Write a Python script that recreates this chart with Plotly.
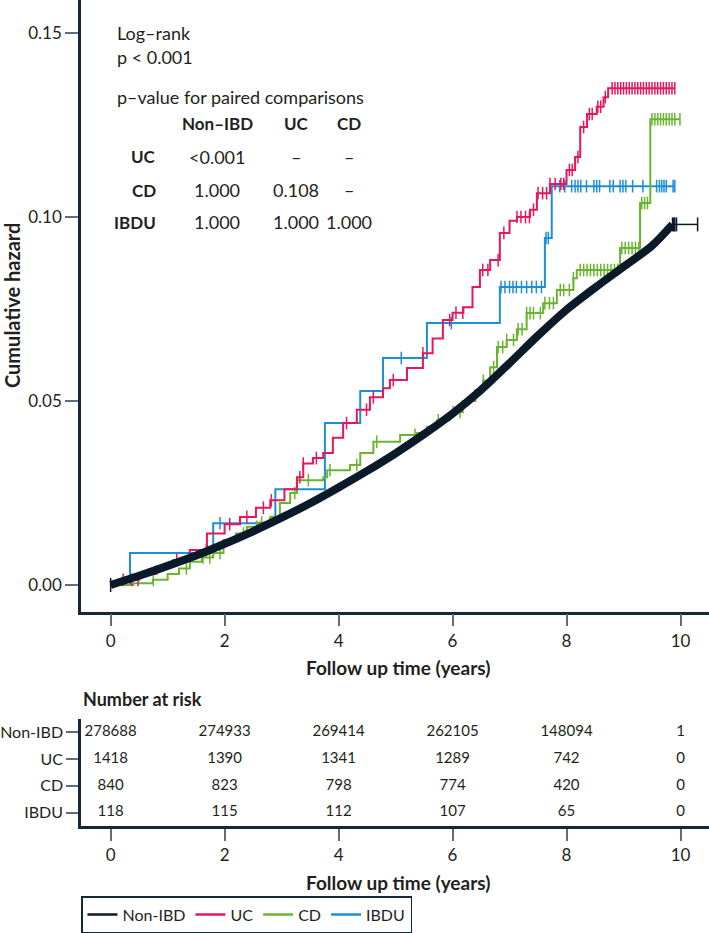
import numpy as np
import plotly.graph_objects as go

# ---------------- data ----------------
tick_years = [0, 2, 4, 6, 8, 10]

nonibd_t = [0, 0.5, 1, 1.5, 2, 2.5, 3, 3.5, 4, 4.5, 5, 5.5, 6, 6.5, 7, 7.5, 8, 8.5, 9, 9.5, 9.86]
nonibd_h = [0, 0.0025, 0.0052, 0.008, 0.0112, 0.0146, 0.0183, 0.0222, 0.0265, 0.031, 0.0358,
            0.041, 0.0466, 0.053, 0.0603, 0.0678, 0.0748, 0.0808, 0.0865, 0.0922, 0.098]
nonibd_last_t = 10.3
nonibd_censor = [0.0, 9.86, 9.88, 9.9, 9.93, 10.3]

uc_t = [0, 0.16, 0.5, 0.8, 1.1, 1.39, 1.69, 2.0, 2.27, 2.55, 2.8, 3.05, 3.27, 3.38, 3.55, 3.73,
        3.9, 4.08, 4.32, 4.55, 4.78, 4.9, 5.2, 5.48, 5.65, 5.83, 6.0, 6.19, 6.35, 6.48, 6.66,
        6.83, 7.0, 7.13, 7.36, 7.48, 7.71, 8.0, 8.15, 8.24, 8.36, 8.53, 8.65, 8.73, 9.9]
uc_h = [0, 0.0014, 0.003, 0.005, 0.0068, 0.0095, 0.014, 0.0165, 0.0185, 0.021, 0.023, 0.026,
        0.0293, 0.033, 0.0345, 0.0359, 0.040, 0.044, 0.0476, 0.051, 0.0535, 0.0557, 0.059,
        0.063, 0.067, 0.072, 0.074, 0.0755, 0.081, 0.0856, 0.0883, 0.0957, 0.099, 0.1, 0.102,
        0.1065, 0.109, 0.1128, 0.1163, 0.1245, 0.128, 0.13, 0.1326, 0.135, 0.135]
uc_censor = [0.22, 0.37, 0.48, 1.16, 1.68, 2.09, 2.39, 2.68, 2.82, 3.32, 3.38, 3.61, 4.14, 4.49,
             4.61, 4.96, 5.48, 5.95, 6.06, 6.18, 6.53, 6.62, 6.8, 6.9, 7.13, 7.2, 7.28, 7.35,
             7.42, 7.5, 7.58, 7.65, 7.71, 7.8, 7.9, 7.95, 8.05, 8.1, 8.2, 8.3, 8.4, 8.45, 8.55,
             8.6, 8.68, 8.8, 8.85, 8.9, 8.95, 9.0, 9.05, 9.1, 9.15, 9.2, 9.25, 9.3, 9.35, 9.4,
             9.45, 9.5, 9.55, 9.6, 9.65, 9.7, 9.75, 9.8, 9.85, 9.9]

cd_t = [0, 0.4, 0.74, 1.0, 1.2, 1.39, 1.6, 1.8, 1.98, 2.2, 2.39, 2.6, 2.8, 2.97, 3.15, 3.27,
        3.73, 3.8, 4.2, 4.38, 4.61, 5.08, 5.37, 5.55, 5.73, 5.95, 6.18, 6.4, 6.54, 6.66, 6.78,
        6.95, 7.13, 7.3, 7.59, 7.83, 8.12, 8.18, 8.94, 9.29, 9.47, 9.99]
cd_h = [0, 0.0005, 0.0014, 0.003, 0.0045, 0.0063, 0.0075, 0.0087, 0.0122, 0.014, 0.0158, 0.017,
        0.0185, 0.0223, 0.025, 0.0285, 0.0293, 0.0312, 0.0326, 0.0359, 0.0389, 0.0408, 0.0413,
        0.043, 0.0448, 0.047, 0.05, 0.053, 0.0555, 0.0592, 0.0647, 0.0666, 0.0695, 0.0739,
        0.0766, 0.0802, 0.0834, 0.0856, 0.0916, 0.1038, 0.1266, 0.1266]
cd_censor = [0.75, 1.33, 1.62, 1.74, 1.92, 2.33, 2.56, 2.65, 3.23, 3.47, 3.85, 4.32, 4.67, 5.34,
             5.75, 6.01, 6.13, 6.54, 6.72, 6.8, 6.88, 6.95, 7.07, 7.15, 7.22, 7.3, 7.36, 7.42,
             7.54, 7.62, 7.7, 7.77, 7.89, 7.95, 8.05, 8.12, 8.24, 8.3, 8.36, 8.42, 8.48, 8.54,
             8.6, 8.66, 8.72, 8.78, 8.84, 8.9, 8.97, 9.03, 9.09, 9.15, 9.21, 9.27, 9.32, 9.37,
             9.42, 9.5, 9.55, 9.6, 9.65, 9.7, 9.75, 9.8, 9.85, 9.9, 9.99]

ibdu_t = [0, 0.34, 1.8, 2.89, 3.76, 4.38, 4.78, 5.55, 6.83, 7.62, 7.74, 9.9]
ibdu_h = [0, 0.0087, 0.0168, 0.026, 0.044, 0.0527, 0.0617, 0.0712, 0.081, 0.0943, 0.1084, 0.1084]
ibdu_censor = [1.92, 5.1, 5.98, 6.85, 6.92, 7.0, 7.06, 7.12, 7.21, 7.3, 7.39, 7.47, 7.56, 7.64,
               7.68, 7.88, 7.97, 8.09, 8.15, 8.2, 8.25, 8.35, 8.48, 8.53, 8.58, 8.76, 8.82,
               8.94, 8.99, 9.04, 9.16, 9.34, 9.58, 9.63, 9.67, 9.71, 9.75, 9.87, 9.9]

risk_groups = ["Non-IBD", "UC", "CD", "IBDU"]
risk_times = [0, 2, 4, 6, 8, 10]
risk_nonibd = [278688, 274933, 269414, 262105, 148094, 1]
risk_uc = [1418, 1390, 1341, 1289, 742, 0]
risk_cd = [840, 823, 798, 774, 420, 0]
risk_ibdu = [118, 115, 112, 107, 65, 0]

pair_cols = ["Non–IBD", "UC", "CD"]
pair_rows = ["UC", "CD", "IBDU"]
pair_vals = [["<0.001", "–", "–"],
             ["1.000", "0.108", "–"],
             ["1.000", "1.000", "1.000"]]

# ---------------- style ----------------
W, H = 709, 933
FONT = "Source Sans Pro, Lato, sans-serif"
TXT = "#231f20"
AXC = "#14283a"
TICKC = "#5e6e7c"
C_NON = "#0b1a28"
C_UC = "#e8175d"
C_CD = "#6ab42f"
C_IB = "#1d8fd6"


def px_x(p):
    return p / W


def px_y(p):
    return 1 - p / H


def step_vals(ts, hs, times):
    ts = np.asarray(ts)
    hs = np.asarray(hs)
    idx = np.searchsorted(ts, np.asarray(times), side="right") - 1
    idx = np.clip(idx, 0, len(hs) - 1)
    return hs[idx]


fig = go.Figure()


def add_step(ts, hs, cens, color, width=2):
    fig.add_trace(go.Scatter(x=ts, y=hs, mode="lines", line=dict(color=color, width=width, shape="hv"),
                             showlegend=False, hoverinfo="skip", xaxis="x", yaxis="y"))
    fig.add_trace(go.Scatter(x=cens, y=step_vals(ts, hs, cens), mode="markers",
                             marker=dict(symbol="line-ns", size=9, line=dict(color=color, width=1.5)),
                             showlegend=False, hoverinfo="skip", xaxis="x", yaxis="y"))


add_step(ibdu_t, ibdu_h, ibdu_censor, C_IB)
add_step(cd_t, cd_h, cd_censor, C_CD)
add_step(uc_t, uc_h, uc_censor, C_UC)

# Non-IBD: thick smooth curve plus thin tail
fig.add_trace(go.Scatter(x=nonibd_t, y=nonibd_h, mode="lines",
                         line=dict(color=C_NON, width=8, shape="spline", smoothing=0.8),
                         showlegend=False, hoverinfo="skip", xaxis="x", yaxis="y"))
fig.add_trace(go.Scatter(x=[nonibd_t[-1], nonibd_last_t], y=[nonibd_h[-1], nonibd_h[-1]], mode="lines",
                         line=dict(color=C_NON, width=1.5),
                         showlegend=False, hoverinfo="skip", xaxis="x", yaxis="y"))
nonibd_all_t = nonibd_t + [nonibd_last_t]
nonibd_all_h = nonibd_h + [nonibd_h[-1]]
fig.add_trace(go.Scatter(x=nonibd_censor, y=step_vals(nonibd_all_t, nonibd_all_h, nonibd_censor),
                         mode="markers",
                         marker=dict(symbol="line-ns", size=10, line=dict(color=C_NON, width=1.5)),
                         showlegend=False, hoverinfo="skip", xaxis="x", yaxis="y"))

# legend-only traces
for name, col in [("Non-IBD", C_NON), ("UC", C_UC), ("CD", C_CD), ("IBDU", C_IB)]:
    fig.add_trace(go.Scatter(x=[None], y=[None], mode="lines", name=name,
                             line=dict(color=col, width=2.5), xaxis="x", yaxis="y"))

# risk table
for grp, vals in zip(risk_groups, [risk_nonibd, risk_uc, risk_cd, risk_ibdu]):
    fig.add_trace(go.Scatter(x=risk_times, y=[grp] * len(risk_times), mode="text",
                             text=[str(v) for v in vals], textposition="middle center",
                             textfont=dict(family=FONT, size=15, color=TXT),
                             showlegend=False, hoverinfo="skip", xaxis="x2", yaxis="y2"))

# ---------------- annotations ----------------
ann = []


def add_text(text, x, y, size=16, bold=False, xanchor="left", angle=0):
    ann.append(dict(text=f"<b>{text}</b>" if bold else text, x=px_x(x), y=px_y(y),
                    xref="paper", yref="paper", xanchor=xanchor, yanchor="middle",
                    showarrow=False, textangle=angle,
                    font=dict(family=FONT, size=size, color=TXT)))


add_text("Log–rank", 115, 33, 18)
add_text("p < 0.001", 115, 57, 18)
add_text("p–value for paired comparisons", 115, 97, 18)
col_x = [217, 296, 349]
row_y = [157, 190, 222]
for cx, cname in zip(col_x, pair_cols):
    add_text(cname, cx, 124, 17, bold=True, xanchor="center")
for ry, rname, rvals in zip(row_y, pair_rows, pair_vals):
    add_text(rname, 158, ry, 17, bold=True, xanchor="right")
    for cx, v in zip(col_x, rvals):
        add_text(v, cx, ry, 18, xanchor="center")

add_text("Cumulative hazard", 12, 306, 20, bold=True, xanchor="center", angle=-90)
add_text("Follow up time (years)", 398, 667, 19, bold=True, xanchor="center")
add_text("Number at risk", 81, 699, 18, bold=True)
add_text("Follow up time (years)", 398, 882, 19, bold=True, xanchor="center")

x_dom = [px_x(81), 1]
xrange = [-0.52, 10.5]
axis_common = dict(showline=True, linecolor=AXC, linewidth=2.5, showgrid=False, zeroline=False,
                   ticks="outside", tickcolor=TICKC, tickwidth=1.5, automargin=False)

fig.update_layout(
    width=W, height=H,
    margin=dict(l=0, r=0, t=0, b=0, autoexpand=False),
    paper_bgcolor="white", plot_bgcolor="white",
    font=dict(family=FONT, size=16, color=TXT),
    xaxis=dict(domain=x_dom, range=xrange, anchor="y", tickvals=tick_years, ticklen=12,
               tickfont=dict(family=FONT, size=17, color=TXT), **axis_common),
    yaxis=dict(domain=[px_y(611.7), 1], range=[-0.00726, 0.159], anchor="x",
               tickvals=[0, 0.05, 0.10, 0.15], ticktext=["0.00", "0.05", "0.10", "0.15"],
               ticklen=13, tickfont=dict(family=FONT, size=17, color=TXT), **axis_common),
    xaxis2=dict(domain=x_dom, range=xrange, anchor="y2", tickvals=tick_years, ticklen=12,
                tickfont=dict(family=FONT, size=17, color=TXT), **axis_common),
    yaxis2=dict(domain=[px_y(826), px_y(719)], anchor="x2", type="category",
                categoryorder="array", categoryarray=["IBDU", "CD", "UC", "Non-IBD"],
                range=[-0.5, 3.5], ticklen=12, tickfont=dict(family=FONT, size=16, color=TXT),
                **axis_common),
    legend=dict(orientation="h", x=px_x(81), xanchor="left", y=0, yanchor="bottom",
                bordercolor=AXC, borderwidth=1.5, bgcolor="white",
                font=dict(family=FONT, size=16, color=TXT), itemwidth=30, tracegroupgap=0),
    annotations=ann,
    showlegend=True,
)

fig.write_html("out.html", config={"displayModeBar": False},
               post_script="document.body.style.margin='0';")
